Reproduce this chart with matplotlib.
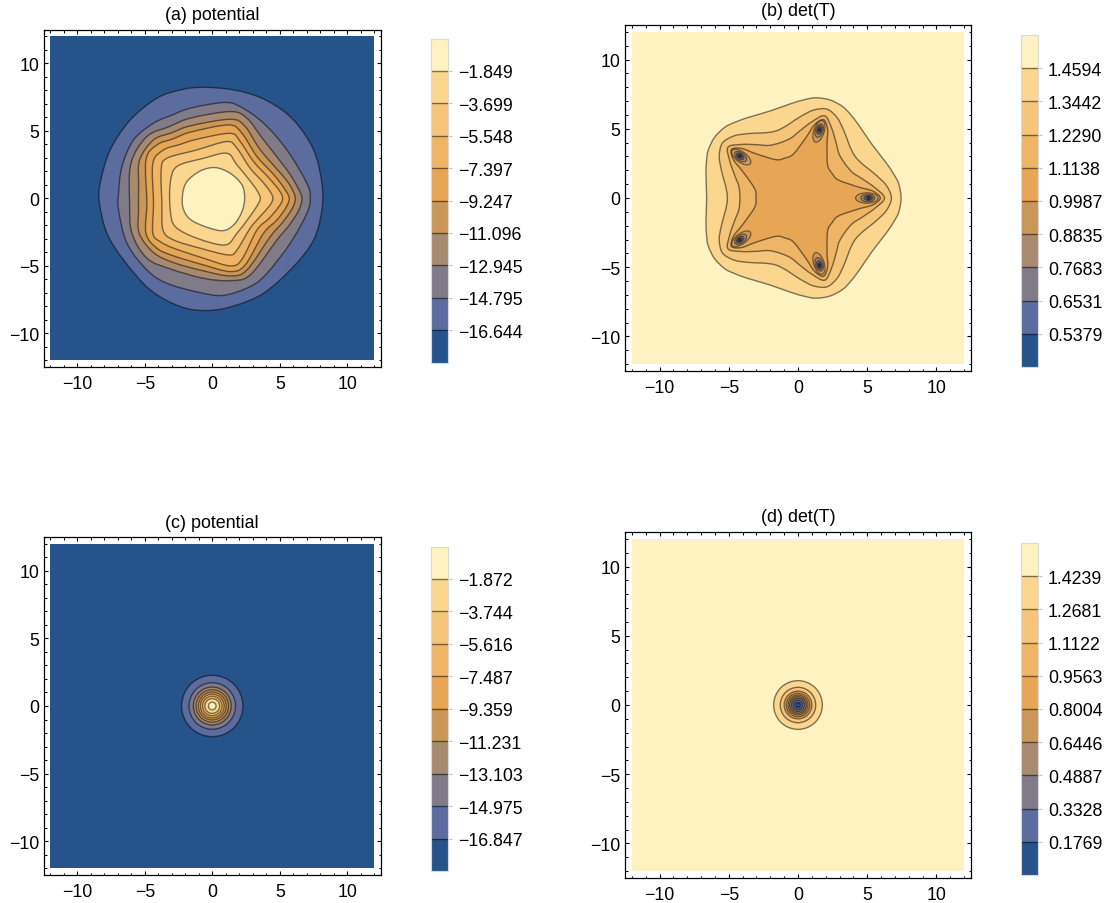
import math
import matplotlib
matplotlib.use("Agg")
import matplotlib.pyplot as plt
from matplotlib.path import Path
from matplotlib.patches import PathPatch, Rectangle, Circle, Ellipse
from matplotlib.colors import ListedColormap, BoundaryNorm
from matplotlib.cm import ScalarMappable
from matplotlib.ticker import MultipleLocator

plt.rcParams["font.family"] = ["Liberation Sans", "DejaVu Sans"]

W, H = 1111, 904

# bands, bottom of the colour bar to the top
band_colors = ["#26548a", "#5c6c9f", "#807b89", "#a88a70", "#ca9759",
               "#e6a655", "#eeb566", "#f5c679", "#fbd68f", "#fef2c0"]
line_color = (0, 0, 0, 0.5)

levels_a = [-16.644, -14.795, -12.945, -11.096, -9.247, -7.397, -5.548, -3.699, -1.849]
levels_b = [0.5379, 0.6531, 0.7683, 0.8835, 0.9987, 1.1138, 1.2290, 1.3442, 1.4594]
levels_c = [-16.847, -14.975, -13.103, -11.231, -9.359, -7.487, -5.616, -3.744, -1.872]
levels_d = [0.1769, 0.3328, 0.4887, 0.6446, 0.8004, 0.9563, 1.1122, 1.2681, 1.4239]

# contour outlines of (a), outer one first
a1 = [(-0.64, 8.22), (1.83, 7.98), (4.05, 7.23), (6.02, 5.80), (7.51, 3.58), (8.12, 1.11),
      (8.12, -0.86), (7.51, -3.09), (6.02, -5.06), (3.80, -7.04), (1.58, -7.98), (-0.40, -8.32),
      (-2.37, -8.02), (-4.59, -6.79), (-6.57, -4.57), (-7.80, -2.59), (-8.35, -0.37), (-8.30, 1.11),
      (-7.56, 3.58), (-6.07, 5.80), (-4.10, 7.41), (-2.37, 8.02)]
a2 = [(0.84, 7.09), (2.07, 6.79), (3.80, 5.56), (5.53, 3.58), (7.01, 1.11), (7.26, 0),
      (7.01, -1.11), (5.78, -3.33), (4.05, -5.56), (2.81, -6.54), (0.84, -7.19), (-0.89, -6.99),
      (-3.36, -6.30), (-4.84, -5.31), (-6.32, -3.33), (-6.94, -0.86), (-6.94, 0.37), (-6.69, 2.35),
      (-5.83, 4.32), (-4.35, 5.56), (-3.0, 6.15), (-1.63, 6.67)]
a3 = [(1.33, 6.42), (2.57, 5.93), (3.80, 4.32), (5.53, 2.10), (6.30, 0.85), (6.64, 0), (6.40, -0.90),
      (5.70, -2.00), (4.79, -3.09), (2.81, -5.68), (1.33, -6.10), (-0.64, -5.93), (-3.11, -5.23), (-4.84, -4.44),
      (-5.95, -2.59), (-6.12, -0.37), (-6.02, 2.59), (-4.84, 4.57), (-3.2, 5.30), (-1.63, 5.93)]
a4 = [(1.33, 5.85), (2.44, 5.31), (3.56, 3.58), (5.28, 1.60), (5.85, 0.80), (6.15, 0), (5.90, -0.80),
      (5.20, -1.80), (4.30, -2.84), (2.57, -5.31), (1.33, -5.75), (-0.64, -5.38), (-2.86, -4.77), (-4.35, -4.02),
      (-5.41, -2.59), (-5.46, -0.86), (-5.45, 1.00), (-5.38, 2.84), (-4.35, 4.32), (-3.0, 4.85), (-1.63, 5.36)]
a5 = [(1.21, 5.43), (2.20, 4.81), (3.31, 3.09), (4.60, 1.70), (5.35, 0.70), (5.70, 0), (5.45, -0.70),
      (4.80, -1.60), (3.80, -2.59), (2.44, -4.94), (1.33, -5.43), (-0.64, -4.94), (-2.86, -4.27), (-4.10, -3.70),
      (-4.91, -2.59), (-4.84, -0.37), (-4.91, 2.84), (-4.10, 3.95), (-2.9, 4.40), (-1.63, 4.89)]
a6 = [(1.33, 4.81), (2.07, 4.20), (3.06, 2.72), (4.20, 1.50), (4.95, 0.60), (5.21, 0), (4.95, -0.60),
      (4.20, -1.50), (3.31, -2.35), (2.20, -4.52), (1.33, -5.01), (-0.64, -4.44), (-2.86, -3.70), (-3.85, -3.21),
      (-4.40, -2.59), (-4.35, -0.37), (-4.40, 2.59), (-3.60, 3.58), (-2.4, 3.98), (-1.14, 4.37)]
a7 = [(1.09, 4.20), (1.83, 3.70), (2.81, 2.22), (3.70, 1.25), (4.25, 0.55), (4.49, 0), (4.25, -0.55),
      (3.50, -1.40), (2.81, -2.22), (1.83, -3.83), (1.21, -4.20), (-0.89, -3.70), (-2.86, -3.09), (-3.65, -2.35),
      (-3.73, -0.37), (-3.78, 2.10), (-3.36, 2.96), (-1.14, 3.58)]
a8 = [(1.09, 3.33), (1.83, 2.47), (2.75, 1.35), (3.30, 0.60), (3.56, 0), (3.30, -0.60), (2.60, -1.60),
      (1.83, -2.59), (0.96, -3.46), (-1.14, -2.96), (-2.74, -2.10), (-3.11, -0.86), (-3.11, 1.11), (-2.62, 2.35),
      (-0.64, 2.96)]
a9 = [(0.22, 2.27), (1.33, 1.85), (2.20, 0.99), (2.40, 0), (2.20, -0.99), (1.58, -1.98),
      (0.59, -2.40), (-1.38, -1.73), (-2.12, -0.86), (-2.20, 0.25), (-1.88, 1.23), (-0.89, 2.02)]

# contour outlines of (b), outer one first
b1 = [(7.45, 0), (7.28, 1.02), (6.92, 1.72), (6.35, 2.57), (5.34, 3.88), (4.40, 5.25), (3.78, 6.05),
      (3.22, 6.61), (2.30, 7.09), (1.28, 7.24), (0.50, 7.11), (-0.48, 6.83), (-2.04, 6.28), (-3.63, 5.81),
      (-4.58, 5.46), (-5.29, 5.11), (-6.03, 4.38), (-6.49, 3.45), (-6.61, 2.67), (-6.65, 1.66), (-6.60, 0),
      (-6.65, -1.66), (-6.61, -2.67), (-6.49, -3.45), (-6.03, -4.38), (-5.29, -5.11), (-4.58, -5.46),
      (-3.63, -5.81), (-2.04, -6.28), (-0.48, -6.83), (0.50, -7.11), (1.28, -7.24), (2.30, -7.09),
      (3.22, -6.61), (3.78, -6.05), (4.40, -5.25), (5.34, -3.88), (6.35, -2.57), (6.92, -1.72), (7.28, -1.02)]
b2 = [(6.75, 0), (6.39, 0.90), (5.67, 1.63), (4.13, 3.00), (3.30, 4.89), (2.83, 5.80), (2.09, 6.42),
      (1.12, 6.35), (0.21, 5.90), (-1.58, 4.85), (-3.63, 4.65), (-4.64, 4.48), (-5.46, 3.97), (-5.69, 3.03),
      (-5.54, 2.02), (-5.10, 0), (-5.54, -2.02), (-5.69, -3.03), (-5.46, -3.97), (-4.64, -4.48), (-3.63, -4.65),
      (-1.58, -4.85), (0.21, -5.90), (1.12, -6.35), (2.09, -6.42), (2.83, -5.80), (3.30, -4.89), (4.13, -3.00),
      (5.67, -1.63), (6.39, -0.90)]
b3 = [(6.25, 0), (5.55, 0.75), (4.65, 1.38), (3.94, 1.84), (3.40, 2.47), (2.97, 3.18), (2.75, 4.00),
      (2.43, 5.05), (1.93, 5.94), (1.00, 5.51), (0.13, 4.85), (-0.53, 4.32), (-1.30, 3.99), (-2.11, 3.80),
      (-2.95, 3.85), (-4.05, 3.87), (-5.06, 3.67), (-4.93, 2.66), (-4.57, 1.62), (-4.27, 0.83), (-4.20, 0),
      (-4.27, -0.83), (-4.57, -1.62), (-4.93, -2.66), (-5.06, -3.67), (-4.05, -3.87), (-2.95, -3.85),
      (-2.11, -3.80), (-1.30, -3.99), (-0.53, -4.32), (0.13, -4.85), (1.00, -5.51), (1.93, -5.94), (2.43, -5.05),
      (2.75, -4.00), (2.97, -3.18), (3.40, -2.47), (3.94, -1.84), (4.65, -1.38), (5.55, -0.75)]
b4 = [(5.95, 0), (5.40, 0.50), (4.35, 0.80), (2.92, 1.30), (2.46, 1.79), (2.14, 2.38), (2.10, 3.89),
      (2.14, 4.98), (1.84, 5.66), (1.19, 5.29), (0.58, 4.38), (-0.33, 3.18), (-0.94, 2.89), (-1.60, 2.77),
      (-3.05, 3.20), (-4.07, 3.58), (-4.81, 3.50), (-4.66, 2.76), (-3.99, 1.91), (-3.13, 0.67), (-3.04, 0),
      (-3.13, -0.67), (-3.99, -1.91), (-4.66, -2.76), (-4.81, -3.50), (-4.07, -3.58), (-3.05, -3.20),
      (-1.60, -2.77), (-0.94, -2.89), (-0.33, -3.18), (0.58, -4.38), (1.19, -5.29), (1.84, -5.66), (2.14, -4.98),
      (2.10, -3.89), (2.14, -2.38), (2.46, -1.79), (2.92, -1.30), (4.35, -0.80), (5.40, -0.50)]

# small wells at the tips of the star in (b)
well_x = [5.10, 1.55, -4.20, -4.20, 1.55]
well_y = [0.0, 4.93, 3.03, -3.02, -4.85]
well_angle = [0, 72, 144, 216, 288]
well_long = [0.82, 0.50, 0.32, 0.19, 0.08]
well_short = [0.38, 0.28, 0.18, 0.11, 0.06]
well_shift = [-0.12, -0.06, -0.02, 0, 0]

# circular contours of the lower panels
c_radii = [2.27, 1.72, 1.40, 1.20, 1.03, 0.88, 0.72, 0.55, 0.28]
d_radii = [1.76, 1.28, 1.00, 0.85, 0.72, 0.60, 0.47, 0.33, 0.17]


def axes_px(left, top, right, bottom):
    return plt.gcf().add_axes([left / W, 1 - bottom / H, (right - left) / W, (bottom - top) / H])


def smooth_closed(pts):
    # Catmull-Rom through the read points, as bezier segments
    n = len(pts)
    verts = [pts[0]]
    codes = [Path.MOVETO]
    for i in range(n):
        p0, p1, p2, p3 = pts[i - 1], pts[i], pts[(i + 1) % n], pts[(i + 2) % n]
        verts.append((p1[0] + (p2[0] - p0[0]) / 6, p1[1] + (p2[1] - p0[1]) / 6))
        verts.append((p2[0] - (p3[0] - p1[0]) / 6, p2[1] - (p3[1] - p1[1]) / 6))
        verts.append(p2)
        codes += [Path.CURVE4] * 3
    return Path(verts, codes)


def setup_panel(box, title, title_y, back):
    ax = axes_px(*box)
    ax.set_xlim(-12.5, 12.5)
    ax.set_ylim(-12.5, 12.5)
    ax.add_patch(Rectangle((-12, -12), 24, 24, fc=back, ec="none"))
    ax.xaxis.set_major_locator(MultipleLocator(5))
    ax.yaxis.set_major_locator(MultipleLocator(5))
    ax.xaxis.set_minor_locator(MultipleLocator(1))
    ax.yaxis.set_minor_locator(MultipleLocator(1))
    ax.tick_params(which="major", direction="in", length=3.2, width=0.8, top=True, right=True,
                   labelsize=12.8)
    ax.tick_params(which="minor", direction="in", length=1.8, width=0.7, top=True, right=True)
    ax.tick_params(axis="x", which="major", pad=5.5)
    ax.tick_params(axis="y", which="major", pad=3.2)
    for s in ax.spines.values():
        s.set_linewidth(0.9)
    ax.text((box[0] + box[2]) / 2 / W, 1 - title_y / H, title, transform=plt.gcf().transFigure,
            ha="center", va="center", fontsize=12.9)
    return ax


def setup_bar(box, levels):
    step = levels[1] - levels[0]
    edges = [levels[0] - step] + levels + [levels[-1] + step]
    cax = axes_px(*box)
    norm = BoundaryNorm(edges, len(band_colors))
    sm = ScalarMappable(norm=norm, cmap=ListedColormap(band_colors))
    cb = plt.gcf().colorbar(sm, cax=cax, ticks=levels, spacing="uniform", drawedges=False)
    cb.outline.set_edgecolor("#d8d8d8")
    cb.outline.set_linewidth(0.8)
    cb.ax.minorticks_off()
    cb.ax.tick_params(length=3.2, width=0.8, color="#c8c8c8", labelsize=12.8, pad=4)
    if levels[0] < 0:
        cb.ax.set_yticklabels([f"\u2212{abs(v):.3f}" for v in levels])
    else:
        cb.ax.set_yticklabels([f"{v:.4f}" for v in levels])
    cb.ax.hlines(levels, 0, 1, colors=[line_color], linewidth=1)


fig = plt.figure(figsize=(W / 100, H / 100), dpi=100)

# (a)
ax = setup_panel((43.5, 30.5, 381, 368), "(a) potential", 15, band_colors[0])
for i, ring in enumerate([a1, a2, a3, a4, a5, a6, a7, a8, a9]):
    ax.add_patch(PathPatch(smooth_closed(ring), fc=band_colors[i + 1], ec=line_color, lw=1))
setup_bar((431, 39.5, 448, 363.5), levels_a)

# (b)
ax = setup_panel((625, 26, 971, 372), "(b) det(T)", 11, band_colors[9])
for i, ring in enumerate([b1, b2, b3, b4]):
    ax.add_patch(PathPatch(smooth_closed(ring), fc=band_colors[8 - i], ec=line_color, lw=1))
for x, y, ang in zip(well_x, well_y, well_angle):
    for j in range(len(well_long)):
        # the rings sit slightly inward of the well bottom
        cx = x + well_shift[j] * math.cos(math.radians(ang))
        cy = y + well_shift[j] * math.sin(math.radians(ang))
        ax.add_patch(Ellipse((cx, cy), 2 * well_long[j], 2 * well_short[j], angle=ang,
                             fc=band_colors[4 - j], ec=line_color, lw=0.8))
setup_bar((1021, 36, 1038, 368), levels_b)

# (c)
ax = setup_panel((43.5, 538, 381, 876), "(c) potential", 523, band_colors[0])
for i, r in enumerate(c_radii):
    ax.add_patch(Circle((0, 0), r, fc=band_colors[i + 1], ec=line_color, lw=1))
setup_bar((431, 547.5, 448, 872), levels_c)

# (d)
ax = setup_panel((625, 533, 971, 879), "(d) det(T)", 518, band_colors[9])
for i, r in enumerate(d_radii):
    ax.add_patch(Circle((0, 0), r, fc=band_colors[8 - i], ec=line_color, lw=1))
setup_bar((1021, 544, 1038, 876), levels_d)

fig.savefig("out.png", dpi=100)
